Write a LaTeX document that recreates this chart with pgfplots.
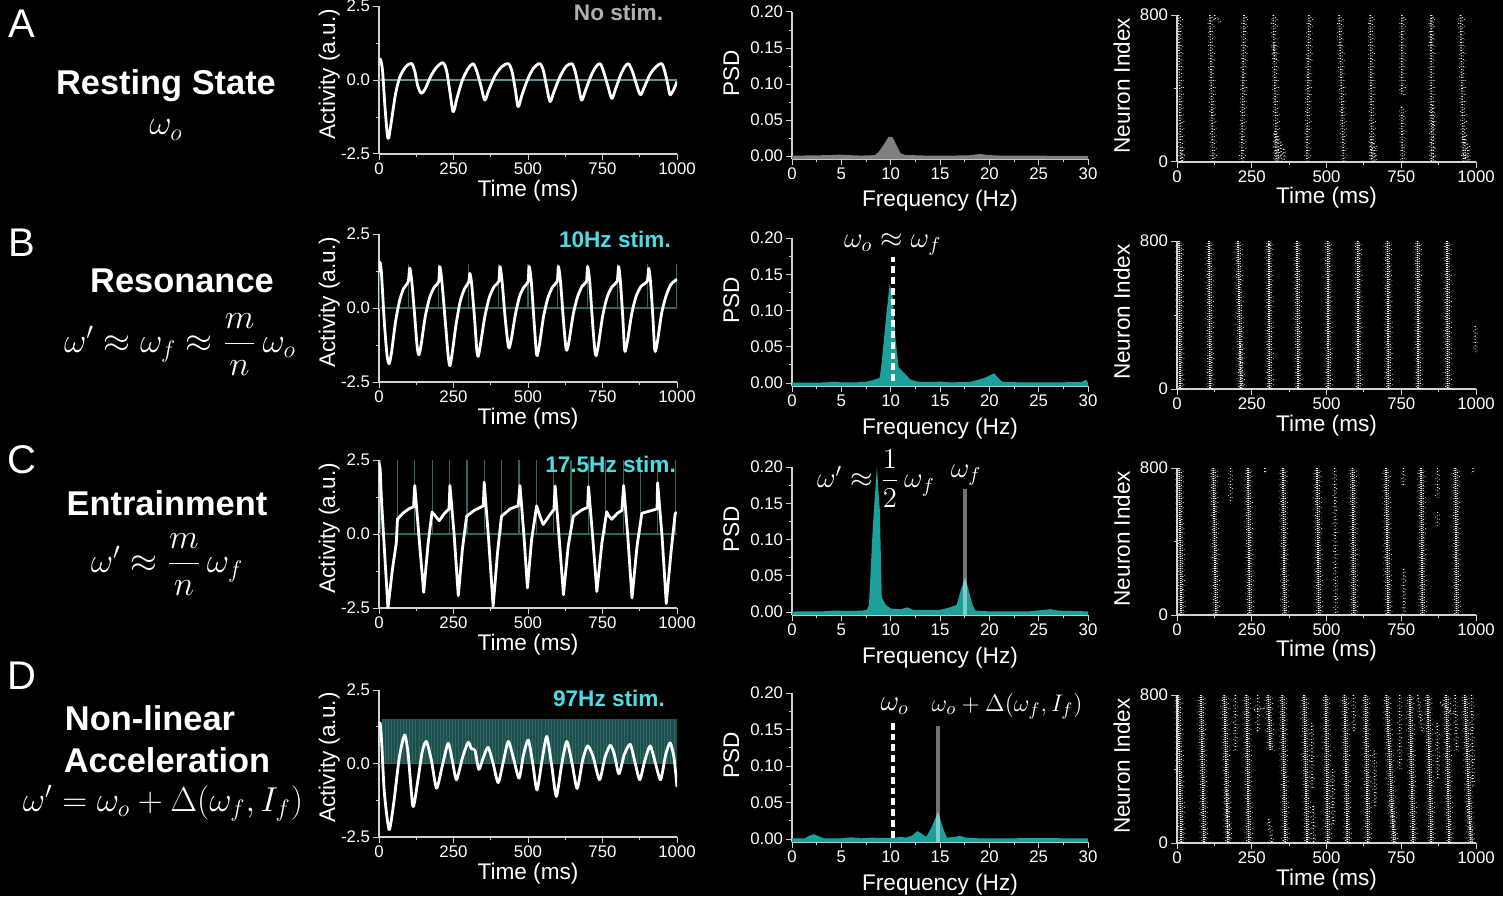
\documentclass[border=0pt]{standalone}
\usepackage{amsmath}
\usepackage{fontspec}
\setmainfont{Liberation Sans}
\usepackage{pgfplots}
\usepackage{pgfplotstable}
\pgfplotsset{compat=1.18}
\definecolor{axc}{RGB}{210,210,210}
\definecolor{tealf}{RGB}{28,160,155}
\definecolor{stimc}{RGB}{45,102,98}
\definecolor{stimfill}{RGB}{28,78,78}
\definecolor{cyantxt}{RGB}{75,220,228}
\definecolor{zeroc}{RGB}{95,150,150}
\definecolor{grayf}{RGB}{128,128,128}
\definecolor{nostim}{RGB}{175,175,175}

\pgfplotstableread{
x y
5 800
12 0
nan nan
110 800
120 0
nan nan
224 800
216 0
nan nan
322 800
333 0
nan nan
441 800
434 0
nan nan
542 800
557 0
nan nan
646 800
652 0
nan nan
752 800
752 360
nan nan
751 300
754 0
nan nan
849 800
851 0
nan nan
948 800
958 0
}\rA
\pgfplotstableread{
x y
126 800
130 770
nan nan
138 780
140 760
nan nan
327 170
330 0
nan nan
337 140
339 0
nan nan
347 110
349 0
nan nan
357 70
359 0
nan nan
16 80
17 0
nan nan
647 140
650 0
nan nan
660 100
662 0
nan nan
855 310
857 0
nan nan
852 800
850 640
nan nan
962 160
964 0
nan nan
972 100
974 0
nan nan
322 650
326 560
}\rAx
\pgfplotstableread{
x y
7 800
10 0
nan nan
107 800
110 0
nan nan
204 800
213 0
nan nan
307 800
309 0
nan nan
401 800
405 0
nan nan
504 800
506 0
nan nan
604 800
606 0
nan nan
704 800
707 0
nan nan
804 800
807 0
nan nan
903 800
905 0
}\rB
\pgfplotstableread{
x y
998 340
998 200
nan nan
212 250
216 0
nan nan
307 800
310 740
}\rBx
\pgfplotstableread{
x y
7 800
14 0
nan nan
121 800
130 0
nan nan
237 800
243 0
nan nan
354 800
360 0
nan nan
468 800
474 0
nan nan
587 800
591 0
nan nan
699 800
706 0
nan nan
816 800
821 0
nan nan
931 800
935 0
}\rC
\pgfplotstableread{
x y
527 800
531 0
nan nan
871 800
871 640
nan nan
179 800
179 620
nan nan
294 800
294 775
nan nan
990 800
990 770
nan nan
757 800
757 700
nan nan
758 250
759 0
nan nan
871 560
871 480
}\rCx
\pgfplotstableread{
x y
3 800
14 0
nan nan
80 800
90 0
nan nan
158 800
170 0
nan nan
232 800
240 0
nan nan
305 800
312 500
nan nan
352 800
362 0
nan nan
425 800
435 0
nan nan
497 800
504 0
nan nan
560 800
570 0
nan nan
630 800
638 0
nan nan
700 800
725 0
nan nan
778 800
790 0
nan nan
838 800
850 0
nan nan
900 800
910 0
nan nan
962 800
982 0
}\rD
\pgfplotstableread{
x y
195 800
195 500
nan nan
270 800
270 600
nan nan
450 650
452 300
nan nan
590 800
592 600
nan nan
660 500
662 200
nan nan
745 800
745 400
nan nan
805 800
820 600
nan nan
870 650
872 350
nan nan
930 800
935 500
nan nan
985 800
990 300
nan nan
455 200
457 0
nan nan
520 400
522 100
nan nan
163 300
172 0
nan nan
306 130
318 0
nan nan
712 230
732 0
nan nan
970 200
988 0
nan nan
258 720
300 730
nan nan
880 760
920 700
}\rDx

% dense burst: several shifted dotted strokes
\newcommand\rast[1]{%
  \addplot[white, line width=0.9pt, dash pattern=on 0.5pt off 0.5pt] table {#1};
  \addplot[white, line width=0.6pt, dash pattern=on 0.4pt off 0.9pt, dash phase=0.5pt, xshift=1.0pt] table {#1};
  \addplot[white!85!black, line width=0.6pt, dash pattern=on 0.3pt off 1.1pt, dash phase=0.2pt, xshift=-1.0pt] table {#1};
  \addplot[white!80!black, line width=0.5pt, dash pattern=on 0.3pt off 2.3pt, dash phase=1.1pt, xshift=2.0pt] table {#1};
  \addplot[white!80!black, line width=0.5pt, dash pattern=on 0.3pt off 2.7pt, dash phase=0.6pt, xshift=-1.9pt] table {#1};
}
% medium burst
\newcommand\rastm[1]{%
  \addplot[white, line width=0.8pt, dash pattern=on 0.45pt off 0.9pt] table {#1};
  \addplot[white!90!black, line width=0.55pt, dash pattern=on 0.35pt off 1.4pt, dash phase=0.7pt, xshift=1.0pt] table {#1};
  \addplot[white!80!black, line width=0.5pt, dash pattern=on 0.3pt off 1.9pt, dash phase=0.3pt, xshift=-1.0pt] table {#1};
  \addplot[white!80!black, line width=0.5pt, dash pattern=on 0.3pt off 3.1pt, dash phase=1.3pt, xshift=1.9pt] table {#1};
}
% sparse burst
\newcommand\rasts[1]{%
  \addplot[white, line width=0.7pt, dash pattern=on 0.4pt off 1.2pt] table {#1};
  \addplot[white!85!black, line width=0.5pt, dash pattern=on 0.3pt off 1.9pt, dash phase=0.9pt, xshift=0.9pt] table {#1};
  \addplot[white!80!black, line width=0.5pt, dash pattern=on 0.3pt off 2.5pt, dash phase=0.4pt, xshift=-0.9pt] table {#1};
}

\tikzset{
  stimlbl/.style={font=\fontsize{11.3}{13}\selectfont\bfseries, anchor=east},
  mathlbl/.style={text=white, font=\fontsize{14}{16}\selectfont, inner sep=0pt},
  trace/.style={white, line width=1.4pt, line join=round},
}
\pgfplotsset{
  base/.style={
    scale only axis, anchor=south west, clip mode=individual,
    axis lines=left, axis line style={-, draw=axc, line width=0.6pt},
    tick style={draw=axc, line width=0.5pt},
    tick align=outside, major tick length=2.8pt, minor tick length=1.5pt,
    ticklabel style={text=white, font=\fontsize{8.4}{10}\selectfont},
    xticklabel style={inner sep=1.5pt},
    yticklabel style={inner sep=1.5pt},
    label style={text=white, font=\fontsize{11.3}{13}\selectfont},
    /pgf/number format/assume math mode=true,
    /pgf/number format/1000 sep={},
    scaled ticks=false,
    unbounded coords=jump,
  },
  act/.style={base, width=149pt, height=74pt, xmin=0, xmax=1000, ymin=-2.5, ymax=2.5,
    xtick={0,250,500,750,1000}, ytick={-2.5,0,2.5}, minor x tick num=1, minor y tick num=1,
    yticklabel style={/pgf/number format/.cd, fixed, fixed zerofill, precision=1},
    xlabel={Time (ms)}, ylabel={Activity (a.u.)},
    xlabel style={at={(axis description cs:0.5,-0.25)}, anchor=center},
    ylabel style={at={(axis description cs:-0.167,0.54)}, anchor=center}},
  psd/.style={base, width=148pt, height=74pt, xmin=0, xmax=30, ymin=-0.004, ymax=0.2,
    xtick={0,5,10,15,20,25,30}, ytick={0,0.05,0.1,0.15,0.2}, minor x tick num=1, minor y tick num=1,
    yticklabel style={/pgf/number format/.cd, fixed, fixed zerofill, precision=2},
    xlabel={Frequency (Hz)}, ylabel={PSD},
    xlabel style={at={(axis description cs:0.5,-0.285)}, anchor=center},
    ylabel style={at={(axis description cs:-0.205,0.58)}, anchor=center}},
  ras/.style={base, width=149.5pt, height=73.5pt, xmin=0, xmax=1000, ymin=0, ymax=800,
    xtick={0,250,500,750,1000}, ytick={0,800}, minor x tick num=1, minor y tick num=1,
    xlabel={Time (ms)}, ylabel={Neuron Index},
    xlabel style={at={(axis description cs:0.5,-0.245)}, anchor=center},
    ylabel style={at={(axis description cs:-0.185,0.52)}, anchor=center}},
}

\begin{document}
\begin{tikzpicture}
\useasboundingbox (0,0) rectangle (751.5pt,448pt);
\fill[black] (0,0) rectangle (751.5pt,448pt);

% ---------- left column text
\begin{scope}[every node/.style={text=white}]
\node[font=\fontsize{20}{22}\selectfont] at (11pt,436pt) {A};
\node[font=\fontsize{20}{22}\selectfont] at (11pt,326.5pt) {B};
\node[font=\fontsize{20}{22}\selectfont] at (11pt,218pt) {C};
\node[font=\fontsize{20}{22}\selectfont] at (11pt,110pt) {D};
\node[font=\fontsize{17.2}{19}\selectfont\bfseries, inner sep=0pt] at (83pt,405pt) {Resting State};
\node[font=\fontsize{17}{19}\selectfont, inner sep=0pt] at (83pt,383pt) {$\omega_o$};
\node[font=\fontsize{17.2}{19}\selectfont\bfseries, inner sep=0pt] at (91pt,307.5pt) {Resonance};
\node[font=\fontsize{17}{19}\selectfont, inner sep=0pt] at (90pt,275.5pt) {$\omega' \approx \omega_f \approx \dfrac{m}{n}\,\omega_o$};
\node[font=\fontsize{17.2}{19}\selectfont\bfseries, inner sep=0pt] at (83.5pt,196.5pt) {Entrainment};
\node[font=\fontsize{17}{19}\selectfont, inner sep=0pt] at (83.5pt,165.5pt) {$\omega' \approx \dfrac{m}{n}\,\omega_f$};
\node[font=\fontsize{17.2}{19}\selectfont\bfseries, inner sep=0pt] at (75pt,89pt) {Non-linear};
\node[font=\fontsize{17.2}{19}\selectfont\bfseries, inner sep=0pt] at (83.5pt,68pt) {Acceleration};
\node[font=\fontsize{17}{19}\selectfont, inner sep=0pt] at (81.5pt,46.5pt) {$\omega' = \omega_o + \Delta(\omega_f, I_f)$};
\end{scope}

% ================= ROW A
\begin{axis}[act, at={(189.5pt,371pt)}]
\addplot[zeroc, line width=0.6pt] coordinates {(0,0) (1000,0)};
\addplot[trace, smooth, tension=0.5] coordinates {
(0,0.6) (5,0.7) (12,0.3) (20,-0.9) (30,-1.97) (40,-1.5) (55,-0.5) (70,0.1) (90,0.45) (109,0.56)
(120,0.3) (130,-0.2) (142,-0.45) (155,-0.3) (175,0.15) (195,0.45) (215,0.58)
(227,0.3) (238,-0.4) (249,-1.07) (262,-0.6) (280,0.0) (300,0.4) (316,0.55)
(328,0.3) (342,-0.2) (355,-0.68) (368,-0.35) (390,0.15) (412,0.45) (434,0.55)
(446,0.3) (457,-0.3) (467,-0.9) (480,-0.5) (500,0.05) (520,0.42) (540,0.55)
(552,0.3) (563,-0.25) (574,-0.73) (587,-0.4) (607,0.1) (627,0.45) (647,0.55)
(658,0.3) (669,-0.2) (680,-0.68) (693,-0.35) (712,0.15) (728,0.45) (742,0.55)
(753,0.3) (768,-0.2) (781,-0.62) (794,-0.3) (810,0.15) (825,0.45) (837,0.55)
(850,0.3) (864,-0.15) (877,-0.5) (890,-0.25) (910,0.2) (930,0.45) (949,0.55)
(960,0.25) (970,-0.2) (977,-0.5) (990,-0.3) (1000,-0.05)};
\node[stimlbl, text=nostim] at (axis description cs:0.977,0.955) {No stim.};
\end{axis}

\begin{axis}[psd, at={(396pt,368.5pt)}, height=73.5pt]
\addplot[draw=none, fill=grayf] coordinates {
(0,-0.004) (0,0.0005) (1,0.0008) (2,0.001) (3,0.0012) (4,0.0015) (4.8,0.002) (5.5,0.0016) (6.3,0.001)
(7,0.0008) (7.8,0.001) (8.4,0.0015) (8.8,0.006) (9.3,0.016) (9.8,0.027) (10.2,0.026) (10.6,0.015)
(11,0.004) (11.5,0.0015) (12.5,0.0012) (13.5,0.0008) (15,0.0006) (16.5,0.0008) (18,0.0012)
(18.7,0.0025) (19.2,0.0028) (19.8,0.0015) (21,0.0008) (23,0.0006) (26,0.0005) (28,0.0005)
(30,0.0005) (30,-0.004)};
\end{axis}

\begin{axis}[ras, at={(588.5pt,367pt)}]
\rastm{\rA}
\rasts{\rAx}
\end{axis}

% ================= ROW B
\begin{axis}[act, at={(189.5pt,257pt)}]
\addplot[stimc, line width=0.6pt] coordinates {(0,0) (1000,0)};
\addplot[stimc, ycomb, line width=0.6pt] coordinates {(0,1.5) (100,1.5) (200,1.5) (300,1.5) (400,1.5) (500,1.5) (600,1.5) (700,1.5) (800,1.5) (900,1.5) (1000,1.5)};
\addplot[trace, smooth, tension=0.45] coordinates {
(0,1.2) (3,1.55) (8,1.2) (18,-0.5) (27,-1.6) (34,-1.88) (42,-1.5) (55,-0.5) (68,0.2) (82,0.65) (98,0.88)
(103,1.35) (110,0.9) (120,-0.3) (128,-1.3) (134,-1.58) (142,-1.2) (155,-0.3) (170,0.35) (185,0.7) (200,0.88)
(204,1.4) (211,0.9) (222,-0.4) (232,-1.6) (238,-1.95) (246,-1.5) (258,-0.6) (272,0.2) (287,0.65) (301,0.88)
(305,1.17) (311,0.8) (321,-0.4) (328,-1.4) (333,-1.63) (341,-1.2) (355,-0.3) (370,0.35) (386,0.72) (402,0.9)
(406,1.4) (413,0.9) (423,-0.3) (432,-1.15) (437,-1.35) (445,-1.0) (458,-0.2) (472,0.4) (487,0.72) (500,0.88)
(504,1.4) (511,0.9) (520,-0.4) (527,-1.4) (531,-1.61) (539,-1.2) (552,-0.3) (567,0.35) (583,0.72) (598,0.9)
(602,1.4) (609,0.9) (618,-0.3) (626,-1.25) (630,-1.43) (638,-1.1) (652,-0.2) (667,0.4) (682,0.74) (696,0.9)
(700,1.4) (707,0.9) (716,-0.4) (724,-1.4) (729,-1.61) (737,-1.2) (750,-0.3) (765,0.35) (782,0.72) (799,0.9)
(804,1.4) (810,0.9) (818,-0.3) (823,-1.25) (826,-1.47) (834,-1.1) (848,-0.2) (863,0.4) (880,0.74) (900,0.9)
(905,1.34) (911,0.9) (919,-0.3) (924,-1.25) (927,-1.47) (935,-1.1) (948,-0.2) (963,0.4) (980,0.8) (1000,0.97)};
\node[stimlbl, text=cyantxt] at (axis description cs:1.003,0.966) {10Hz stim.};
\end{axis}

\begin{axis}[psd, at={(396pt,255pt)}]
\addplot[draw=none, fill=tealf] coordinates {
(0,-0.004) (0,0.0005) (2,0.0005) (3.5,0.001) (4.3,0.002) (5,0.001) (6.5,0.001) (7.5,0.002) (8.2,0.004)
(8.9,0.0075) (9.1,0.03) (9.6,0.1) (9.9,0.136) (10.2,0.12) (10.5,0.06) (10.8,0.022) (11.5,0.012) (12,0.005)
(12.7,0.002) (14,0.0015) (15,0.002) (16,0.001) (18,0.0015) (18.7,0.004) (19.5,0.007) (20.1,0.011)
(20.5,0.0135) (20.9,0.007) (21.3,0.002) (23,0.001) (25,0.001) (27,0.001) (29.3,0.0015) (29.8,0.0045)
(30,0.001) (30,-0.004)};
\addplot[white, line width=2pt, dash pattern=on 3.4pt off 2pt] coordinates {(10.2,0.003) (10.2,0.174)};
\node[mathlbl] at (axis cs:10.2,0.191) {$\omega_o \approx \omega_f$};
\end{axis}

\begin{axis}[ras, at={(588.5pt,253.5pt)}, height=74pt]
\rast{\rB}
\rasts{\rBx}
\end{axis}

% ================= ROW C
\begin{axis}[act, at={(189.5pt,144pt)}]
\addplot[stimc, line width=0.6pt] coordinates {(0,0) (1000,0)};
\addplot[stimc, ycomb, line width=0.6pt] coordinates {(3.75,2.5) (62,2.5) (120.25,2.5) (178.5,2.5) (236.75,2.5) (295,2.5) (353.25,2.5) (411.5,2.5) (469.75,2.5) (528,2.5) (586.25,2.5) (644.5,2.5) (702.75,2.5) (761,2.5) (819.25,2.5) (877.5,2.5) (935.75,2.5) (994,2.5)};
\addplot[trace] coordinates {
(0,2.4) (4,2.2) (8,1.2) (18,-0.5) (30,-2.5) (45,-1.2) (58,-0.3) (62,0.5) (80,0.7) (100,0.85) (116,0.92)
(120,1.64) (135,-0.2) (150,-1.97) (165,-0.3) (178,0.74) (190,0.6) (202,0.45) (220,0.7) (235,0.85)
(238,1.64) (252,0.0) (266,-2.08) (280,-0.5) (294,0.6) (320,0.8) (350,0.95) (353,1.75) (368,-0.2)
(383,-2.44) (398,-0.6) (411,0.6) (440,0.85) (467,0.95) (473,1.64) (486,0.0) (498,-1.82) (512,-0.2)
(529,0.95) (540,0.6) (551,0.32) (570,0.6) (587,0.83) (591,1.62) (605,-0.2) (619,-2.05) (635,-0.4)
(652,0.6) (678,0.8) (700,0.9) (703,1.6) (717,-0.1) (731,-1.94) (748,-0.3) (764,0.75) (772,0.6)
(781,0.5) (800,0.7) (815,0.8) (821,1.64) (835,-0.1) (849,-2.16) (866,-0.4) (882,0.7) (910,0.78)
(933,0.85) (935,1.73) (950,-0.1) (964,-2.35) (980,-0.6) (994,0.7) (1000,0.72)};
\node[stimlbl, text=cyantxt] at (axis description cs:1.02,0.973) {17.5Hz stim.};
\end{axis}

\begin{axis}[psd, at={(396pt,140.5pt)}]
\addplot[draw=none, fill=tealf] coordinates {
(0,-0.004) (0,0.0008) (3,0.001) (4.5,0.0022) (5.5,0.0015) (7,0.002) (7.6,0.003) (7.8,0.01) (8.2,0.12)
(8.6,0.2) (8.9,0.14) (9.1,0.02) (9.5,0.01) (10,0.005) (11,0.004) (11.7,0.0065) (12.3,0.003) (13.5,0.003)
(15,0.003) (16,0.0065) (16.7,0.01) (17.1,0.03) (17.55,0.048) (17.9,0.03) (18.3,0.01) (18.6,0.002)
(20,0.001) (24,0.001) (25.5,0.003) (26.2,0.004) (27,0.002) (30,0.001) (30,-0.004)};
\addplot[white, opacity=0.45, line width=2pt] coordinates {(17.5,-0.004) (17.5,0.17)};
\node[mathlbl] at (axis cs:8.5,0.184) {$\omega' \approx \dfrac{1}{2}\,\omega_f$};
\node[mathlbl] at (axis cs:17.65,0.189) {$\omega_f$};
\end{axis}

\begin{axis}[ras, at={(588.5pt,140.5pt)}]
\rast{\rC}
\rasts{\rCx}
\end{axis}

% ================= ROW D
\begin{axis}[act, at={(189.5pt,29.5pt)}, height=73.5pt]
\addplot[draw=none, fill=stimfill] coordinates {(10.3,0) (10.3,1.5) (1000,1.5) (1000,0)};
\addplot[stimc, ycomb, line width=0.4pt] coordinates {
(10.3,1.5) (20.6,1.5) (30.9,1.5) (41.2,1.5) (51.5,1.5) (61.9,1.5) (72.2,1.5) (82.5,1.5) (92.8,1.5) (103.1,1.5)
(113.4,1.5) (123.7,1.5) (134.0,1.5) (144.3,1.5) (154.6,1.5) (164.9,1.5) (175.3,1.5) (185.6,1.5) (195.9,1.5) (206.2,1.5)
(216.5,1.5) (226.8,1.5) (237.1,1.5) (247.4,1.5) (257.7,1.5) (268.0,1.5) (278.4,1.5) (288.7,1.5) (299.0,1.5) (309.3,1.5)
(319.6,1.5) (329.9,1.5) (340.2,1.5) (350.5,1.5) (360.8,1.5) (371.1,1.5) (381.4,1.5) (391.8,1.5) (402.1,1.5) (412.4,1.5)
(422.7,1.5) (433.0,1.5) (443.3,1.5) (453.6,1.5) (463.9,1.5) (474.2,1.5) (484.5,1.5) (494.8,1.5) (505.2,1.5) (515.5,1.5)
(525.8,1.5) (536.1,1.5) (546.4,1.5) (556.7,1.5) (567.0,1.5) (577.3,1.5) (587.6,1.5) (597.9,1.5) (608.2,1.5) (618.6,1.5)
(628.9,1.5) (639.2,1.5) (649.5,1.5) (659.8,1.5) (670.1,1.5) (680.4,1.5) (690.7,1.5) (701.0,1.5) (711.3,1.5) (721.6,1.5)
(732.0,1.5) (742.3,1.5) (752.6,1.5) (762.9,1.5) (773.2,1.5) (783.5,1.5) (793.8,1.5) (804.1,1.5) (814.4,1.5) (824.7,1.5)
(835.1,1.5) (845.4,1.5) (855.7,1.5) (866.0,1.5) (876.3,1.5) (886.6,1.5) (896.9,1.5) (907.2,1.5) (917.5,1.5) (927.8,1.5)
(938.1,1.5) (948.5,1.5) (958.8,1.5) (969.1,1.5) (979.4,1.5) (989.7,1.5) (1000.0,1.5)};
\addplot[stimc, line width=0.6pt] coordinates {(0,0) (1000,0)};
\addplot[trace, smooth, tension=0.4] coordinates {
(0,1.3) (4,1.37) (9,0.7) (18,-1.0) (34,-2.25) (50,-1.3) (68,0.2) (86,0.97) (98,0.3) (114,-1.46) (130,-0.6)
(145,0.4) (159,0.75) (176,0.1) (193,-0.84) (212,-0.1) (232,0.69) (246,0.1) (260,-0.55) (280,0.2) (299,0.72)
(310,0.5) (322,0.45) (335,-0.2) (350,0.2) (366,0.55) (383,0.0) (400,-0.65) (418,0.1) (434,0.75) (452,0.15)
(470,-0.5) (485,0.3) (501,0.8) (516,0.0) (530,-0.9) (547,0.1) (563,0.92) (580,-0.1) (595,-1.12) (612,-0.1)
(630,0.75) (648,0.0) (665,-0.85) (683,0.1) (700,0.6) (718,0.25) (740,-0.55) (758,0.2) (776,0.62) (790,0.3)
(805,-0.35) (823,0.3) (843,0.65) (860,0.0) (875,-0.55) (892,0.1) (910,0.6) (928,0.0) (945,-0.55) (962,0.3)
(977,0.7) (990,0.2) (1000,-0.8)};
\node[stimlbl, text=cyantxt] at (axis description cs:0.983,0.946) {97Hz stim.};
\end{axis}

\begin{axis}[psd, at={(396pt,27pt)}, height=74.5pt]
\addplot[draw=none, fill=tealf] coordinates {
(0,-0.004) (0,0.001) (1.3,0.001) (1.8,0.005) (2.2,0.0065) (2.7,0.004) (3.2,0.001) (5,0.001) (6,0.0025)
(7,0.001) (8,0.002) (9,0.0015) (10.5,0.002) (11,0.003) (11.6,0.002) (12.2,0.005) (12.7,0.011) (13.2,0.007)
(13.6,0.003) (14.1,0.015) (14.8,0.0375) (15.3,0.015) (15.7,0.002) (16.5,0.003) (17,0.0045) (17.6,0.002)
(19,0.001) (22,0.001) (25,0.0015) (28,0.001) (30,0.001) (30,-0.004)};
\addplot[white, opacity=0.45, line width=2pt] coordinates {(14.75,-0.004) (14.75,0.155)};
\addplot[white, line width=2pt, dash pattern=on 3.4pt off 2pt] coordinates {(10.2,0.002) (10.2,0.162)};
\node[mathlbl] at (axis cs:10.4,0.182) {$\omega_o$};
\node[mathlbl, font=\fontsize{13}{15}\selectfont] at (axis cs:21.8,0.182) {$\omega_o + \Delta(\omega_f, I_f)$};
\end{axis}

\begin{axis}[ras, at={(588.5pt,26.5pt)}, height=74pt]
\rast{\rD}
\rasts{\rDx}
\end{axis}
\end{tikzpicture}
\end{document}
